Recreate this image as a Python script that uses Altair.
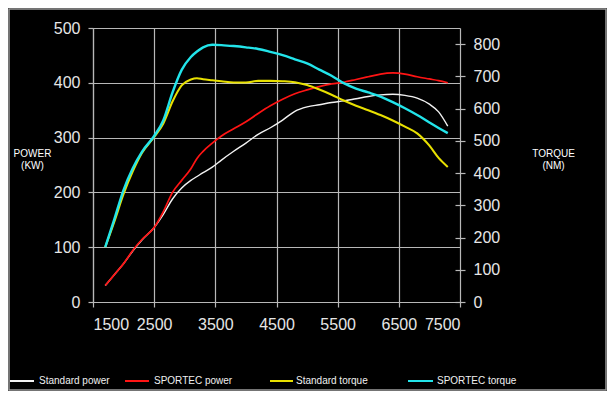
import altair as alt
import pandas as pd

# ---- data ----
rpm = [1700, 1850, 2000, 2150, 2300, 2500, 2650, 2800, 2950, 3100, 3200, 3300,
       3450, 3600, 3800, 4000, 4200, 4400, 4600, 4800, 5000, 5200, 5400, 5600,
       5800, 6000, 6200, 6400, 6600, 6800, 7000, 7150, 7300]
std_power = [30, 50, 70, 93, 113, 136, 160, 188, 208, 222, 229, 236,
             246, 259, 275, 290, 306, 318, 332, 348, 356, 360, 364, 367,
             371, 375, 378, 379, 377, 372, 361, 347, 321]
sportec_power = [30, 50, 70, 94, 114, 136, 165, 200, 222, 243, 262, 275,
                 290, 303, 316, 329, 344, 358, 370, 380, 387, 393, 398, 401,
                 406, 411, 416, 418, 416, 411, 407, 404, 400]
std_torque = [170, 250, 335, 405, 462, 512, 554, 622, 672, 690, 694, 691,
              688, 685, 681, 681, 686, 686, 685, 682, 673, 659, 643, 625,
              609, 595, 580, 563, 544, 523, 485, 447, 419]
sportec_torque = [170, 258, 348, 415, 466, 515, 564, 650, 720, 760, 777, 790,
                  798, 797, 794, 790, 785, 776, 766, 753, 740, 721, 702, 679,
                  662, 650, 637, 620, 601, 580, 557, 540, 524]

series_names = ["Standard power", "SPORTEC power", "Standard torque", "SPORTEC torque"]
x_ticks = [1500, 2500, 3500, 4500, 5500, 6500, 7500]
power_ticks = [0, 100, 200, 300, 400, 500]
torque_ticks = [0, 100, 200, 300, 400, 500, 600, 700, 800]

n = len(rpm)
power_df = pd.DataFrame({
    "rpm": rpm * 2,
    "value": std_power + sportec_power,
    "series": [series_names[0]] * n + [series_names[1]] * n,
})
torque_df = pd.DataFrame({
    "rpm": rpm * 2,
    "value": std_torque + sportec_torque,
    "series": [series_names[2]] * n + [series_names[3]] * n,
})

# ---- styles ----
FONT = "Liberation Sans"
GRID = "#b8b8b8"
LABEL = "#e6e6e6"
colors = ["#f2f2f2", "#ff1414", "#e8e000", "#22e4ea"]
widths = [1.4, 2.4, 1.4, 2.4]

color_enc = alt.Color("series:N", scale=alt.Scale(domain=series_names, range=colors), legend=None)
width_enc = alt.StrokeWidth("series:N", scale=alt.Scale(domain=series_names, range=widths), legend=None)

x_enc = alt.X(
    "rpm:Q",
    scale=alt.Scale(domain=[1500, 7500], nice=False, zero=False),
    axis=alt.Axis(values=x_ticks, format="d", title=None, grid=True, gridColor=GRID,
                  gridWidth=1.2, domainColor=GRID, domainWidth=1.2, tickColor=GRID,
                  tickWidth=1.2, tickSize=5, labelColor=LABEL, labelFontSize=16,
                  labelPadding=9, labelFont=FONT),
)

power = alt.Chart(power_df).mark_line(interpolate="monotone").encode(
    x=x_enc,
    y=alt.Y("value:Q",
            scale=alt.Scale(domain=[0, 500], nice=False),
            axis=alt.Axis(values=power_ticks, grid=True, gridColor=GRID, gridWidth=1.2,
                          domainColor=GRID, domainWidth=1.2, tickColor=GRID, tickWidth=1.2,
                          tickSize=5, labelColor=LABEL, labelFontSize=16, labelPadding=8,
                          labelFont=FONT,
                          title=["POWER", "(KW)"], titleAngle=0, titleAlign="center",
                          titleBaseline="top", titleX=-61, titleY=120, titleFontSize=10,
                          titleFontWeight="normal", titleColor="#ffffff", titleFont=FONT,
                          titleLineHeight=12)),
    color=color_enc,
    strokeWidth=width_enc,
)

torque = alt.Chart(torque_df).mark_line(interpolate="monotone").encode(
    x=x_enc,
    y=alt.Y("value:Q",
            scale=alt.Scale(domain=[0, 850], nice=False),
            axis=alt.Axis(orient="right", values=torque_ticks, grid=False, domain=False,
                          offset=-5, tickColor=GRID, tickWidth=1.2, tickSize=10,
                          labelColor=LABEL, labelFontSize=16, labelPadding=8, labelFont=FONT,
                          title=["TORQUE", "(NM)"], titleAngle=0, titleAlign="center",
                          titleBaseline="top", titleX=98, titleY=120, titleFontSize=10,
                          titleFontWeight="normal", titleColor="#ffffff", titleFont=FONT,
                          titleLineHeight=12)),
    color=color_enc,
    strokeWidth=width_enc,
)

# ---- hand-placed legend and outer frame (layout only) ----
legend_line_x = [(-83, -59), (32, 56), (177, 200), (315, 340)]
legend_text_x = [-54, 61, 203, 344]
LEGEND_Y = 353

layers = [power, torque]
for i, name in enumerate(series_names):
    one = pd.DataFrame({"label": [name]})
    layers.append(
        alt.Chart(one).mark_rule(color=colors[i], strokeWidth=2).encode(
            x=alt.value(legend_line_x[i][0]), x2=alt.value(legend_line_x[i][1]),
            y=alt.value(LEGEND_Y))
    )
    layers.append(
        alt.Chart(one).mark_text(align="left", baseline="middle", fontSize=10,
                                 font=FONT, color="#f0f0f0").encode(
            text="label:N", x=alt.value(legend_text_x[i]), y=alt.value(LEGEND_Y))
    )

frame = alt.Chart(pd.DataFrame({"f": [0]})).mark_rect(
    filled=False, stroke="#9a9a9a", strokeWidth=1.5).encode(
    x=alt.value(-84), x2=alt.value(513), y=alt.value(-19), y2=alt.value(362))
layers.append(frame)

chart = alt.layer(*layers).resolve_scale(y="independent").properties(
    width=367, height=274,
    autosize=alt.AutoSizeParams(type="none"),
    padding={"left": 85, "top": 20, "right": 147, "bottom": 89},
    background="#000000",
).configure_view(stroke=None)

chart.save("out.html", embed_options={"renderer": "svg", "actions": False})
